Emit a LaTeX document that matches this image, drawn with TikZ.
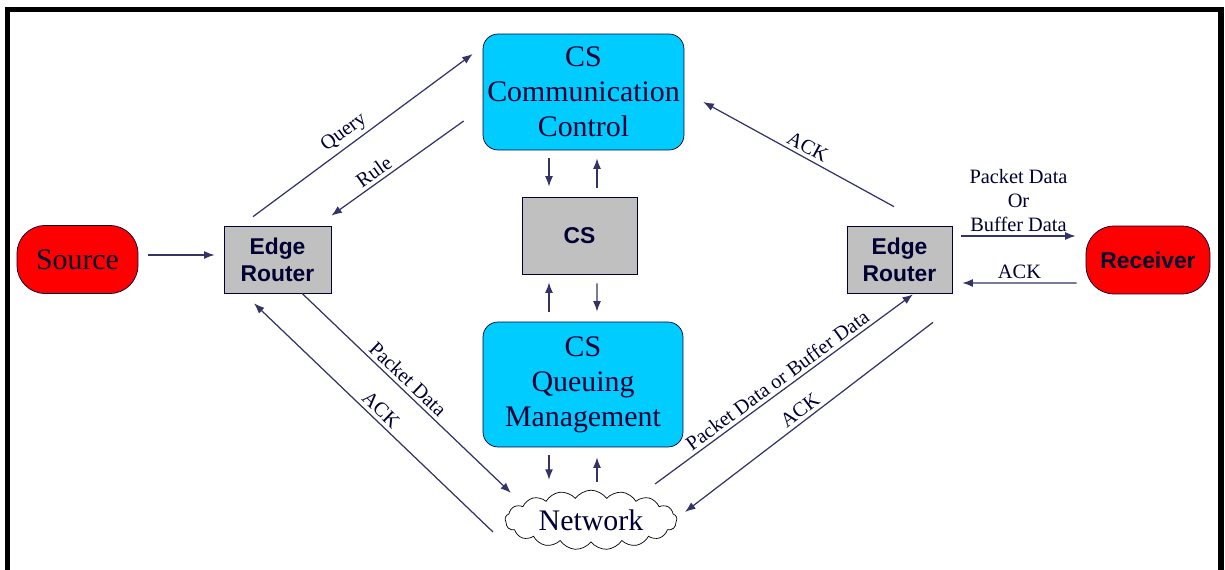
\documentclass[tikz,border=0pt]{standalone}
\usepackage{fontspec}
\setmainfont{Liberation Serif}
\setsansfont{Liberation Sans}
\usetikzlibrary{calc,shapes.symbols,arrows.meta}
\definecolor{navy}{HTML}{000033}
\definecolor{wire}{HTML}{333366}
\definecolor{boxcyan}{HTML}{00CCFF}
\definecolor{boxgray}{HTML}{C0C0C0}
\tikzset{
  endpoint/.style={draw=navy, fill=red, rounded corners=0.56cm, minimum width=2.42cm, minimum height=1.36cm, inner sep=0pt, text=navy},
  router/.style={draw=navy, fill=boxgray, minimum width=2.14cm, minimum height=1.34cm, inner sep=0pt, align=center, text=navy, font=\fontsize{13}{15.5}\selectfont\sffamily\bfseries},
  csbox/.style={draw=navy, fill=boxcyan, rounded corners=0.3cm, minimum width=4.02cm, inner sep=0pt, align=center, text=navy, font=\fontsize{17}{20}\selectfont},
  link/.style={draw=wire, line width=0.7pt, ->},
  lbl/.style={font=\fontsize{11.6}{13.7}\selectfont, text=navy, sloped, above, inner sep=2pt}
}
\begin{document}
\begin{tikzpicture}[x=0.02cm, y=-0.02cm, >={Latex[length=6pt,width=4.5pt]}]
    \useasboundingbox (0,0) rectangle (1225,570);
    \draw [black, line width=3pt] (7.5,575) -- (7.5,9.5) -- (1221,9.5) -- (1221,575);

    % end points and routers
    \node[endpoint, font=\fontsize{17}{20}\selectfont] (src) at (77.5,259.5) {Source};
    \node[router] (erl) at (277.5,259.5) {Edge\\Router};
    \node[router, minimum width=2.1cm] (err) at (899.5,259.5) {Edge\\Router};
    \node[endpoint, minimum width=2.48cm, font=\fontsize{13}{15.5}\selectfont\sffamily\bfseries] (rcv) at (1148,260) {Receiver};

    % central column
    \node[csbox, minimum height=2.32cm] (ccc) at (583.5,92) {CS\\Communication\\Control};
    \node[router, minimum width=2.3cm, minimum height=1.54cm] (cs) at (579.5,235.5) {CS};
    \node[csbox, minimum width=4cm, minimum height=2.5cm] (cqm) at (583,384.5) {CS\\Queuing\\Management};
    \node[cloud, draw=black, fill=white, cloud puffs=17, cloud puff arc=110, aspect=3.2, minimum width=3.44cm, minimum height=1.1cm, inner sep=0pt, text=navy, font=\fontsize{17}{20}\selectfont] (net) at (591,520) {Network};

    % source side
    \draw[link] ($(src.east)+(10,-4.5)$) -- ($(erl.west)+(-9,-4.5)$);
    \draw[link] ($(erl.north)+(-24.5,-9)$) -- node[lbl, pos=0.45] {Query} ($(ccc.west)+(-10,-38)$);
    \draw[link] ($(ccc.west)+(-19,29)$) -- node[lbl, pos=0.63] {Rule} ($(erl.north east)+(0,-10)$);
    \draw[link] ($(erl.south)+(24.5,0)$) -- node[lbl, pos=0.47] {Packet Data} ($(net.center)+(-80,-27)$);
    \draw[link] ($(net.center)+(-98,12)$) -- node[lbl, pos=0.5] {ACK} ($(erl.south)+(-23.5,10)$);

    % column arrows
    \draw[link] ($(ccc.south)+(-34.5,8)$) -- ($(cs.north)+(-30.5,-10)$);
    \draw[link] ($(cs.north)+(17.5,-9)$) -- ($(ccc.south)+(13.5,8)$);
    \draw[link] ($(cqm.north)+(-34,-10)$) -- ($(cs.south)+(-30.5,8)$);
    \draw[link] ($(cs.south)+(17.5,9)$) -- ($(cqm.north)+(14,-10)$);
    \draw[link] ($(cqm.south)+(-34,8)$) -- ($(net.north)+(-42,-10)$);
    \draw[link] ($(net.north)+(6,-8)$) -- ($(cqm.south)+(14,10)$);

    % receiver side
    \draw[link] ($(err.north)+(-5.5,-19)$) -- node[lbl, pos=0.48] {ACK} ($(ccc.east)+(19,10)$);
    \draw[link] ($(net.center)+(64,-36)$) -- node[lbl, pos=0.5] {Packet Data or Buffer Data} ($(err.south)+(13.5,1)$);
    \draw[link] ($(err.south)+(33.5,29)$) -- node[lbl, pos=0.51] {ACK} ($(net.center)+(94,-8)$);
    \draw[link] ($(err.east)+(9,-23.5)$) -- node[lbl, align=center] {Packet Data\\Or\\Buffer Data} ($(rcv.west)+(-10,-24)$);
    \draw[link] ($(rcv.west)+(-9,23)$) -- node[lbl] {ACK} ($(err.east)+(10,23.5)$);
\end{tikzpicture}
\end{document}
